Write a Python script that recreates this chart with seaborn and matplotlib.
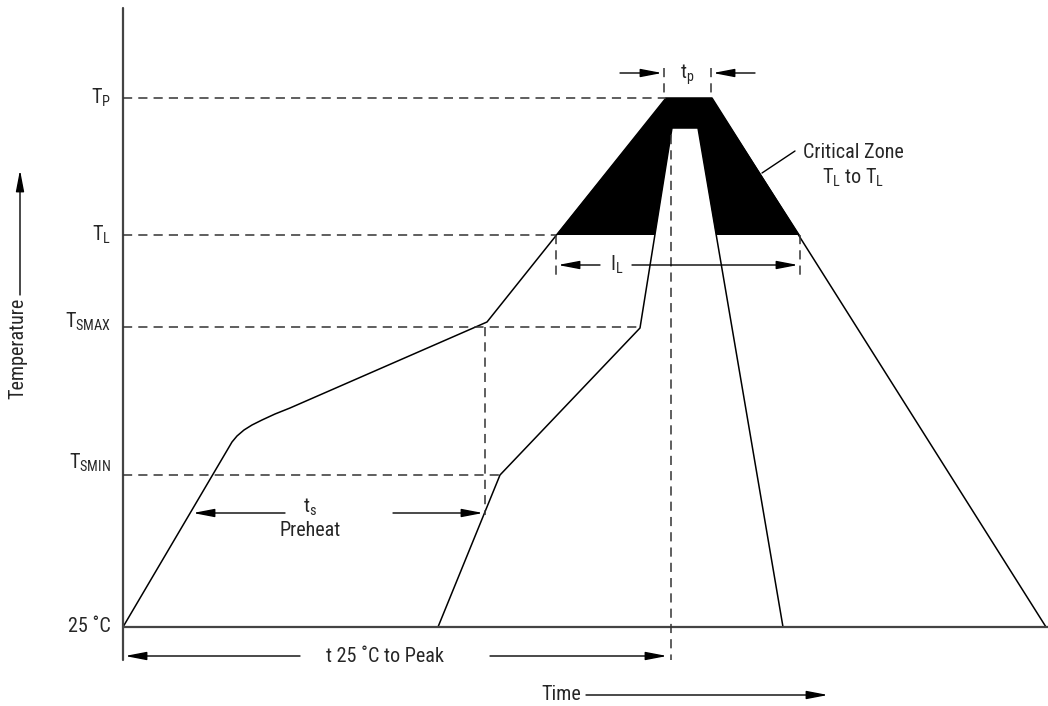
import matplotlib.pyplot as plt
import seaborn as sns
import pandas as pd
from matplotlib import font_manager

# schematic reflow profile, in drawing units (x = time, y = temperature, y grows downward)
outer_x = [123, 232, 237, 244, 252, 262, 275, 290, 487, 666, 712, 1046]
outer_y = [627, 442, 436, 430, 425, 420, 414, 408, 322, 98, 98, 627]
inner_x = [438, 500, 640, 672, 698, 783]
inner_y = [627, 475, 328, 128, 128, 627]
zone_x = [556, 666, 712, 800, 716, 698, 672, 655]
zone_y = [235, 98, 98, 235, 235, 128, 128, 235]

level_names = ["T$_{\\mathregular{P}}$", "T$_{\\mathregular{L}}$",
               "T$_{\\mathregular{SMAX}}$", "T$_{\\mathregular{SMIN}}$", "25 ˚C"]
level_y = [98, 235, 327, 475, 627]
level_end = [666, 556, 640, 500, 1048]
label_dy = [0, 0, -5, -12, 0]

installed = {f.name for f in font_manager.fontManager.ttflist}
narrow = [f for f in ["Roboto Condensed", "Liberation Sans Narrow", "Liberation Sans"] if f in installed]
main_font = narrow[0] if narrow else "DejaVu Sans"

sns.set_style("white")
plt.rcParams["font.family"] = [main_font, "DejaVu Sans"]
plt.rcParams["mathtext.fontset"] = "custom"
plt.rcParams["mathtext.rm"] = main_font
FS = 14.5

fig = plt.figure(figsize=(10.48, 7.06), dpi=100)
ax = fig.add_axes([0, 0, 1, 1])
ax.set_xlim(0, 1048)
ax.set_ylim(706, 0)
ax.axis("off")

df_out = pd.DataFrame({"t": outer_x, "T": outer_y})
df_in = pd.DataFrame({"t": inner_x, "T": inner_y})
ax.fill(zone_x, zone_y, color="black", lw=0)
sns.lineplot(data=df_out, x="t", y="T", sort=False, color="black", lw=1.1, ax=ax)
sns.lineplot(data=df_in, x="t", y="T", sort=False, color="black", lw=1.1, ax=ax)

# axis lines
ax.plot([123, 123], [8, 660], color="#444444", lw=1.6)
ax.plot([123, 1048], [627, 627], color="#444444", lw=1.6)

dash = dict(color="#333333", lw=1.1, ls=(0, (6, 4)))
for name, y, xe, dy in zip(level_names, level_y, level_end, label_dy):
    if y != 627:
        ax.plot([123, xe], [y, y], **dash)
    ax.text(111, y + dy, name, ha="right", va="center", fontsize=FS)

ax.plot([485, 485], [327, 515], **dash)
ax.plot([664, 664], [68, 98], **dash)
ax.plot([711, 711], [68, 98], **dash)
ax.plot([671, 671], [135, 660], **dash)
ax.plot([556, 556], [235, 275], **dash)
ax.plot([800, 800], [235, 275], **dash)


def arrow(x0, y0, x1, y1):
    ax.annotate("", xy=(x1, y1), xytext=(x0, y0),
                arrowprops=dict(arrowstyle="-|>,head_length=1.3,head_width=0.25",
                                mutation_scale=10, color="black", lw=1.0,
                                shrinkA=0, shrinkB=0))


arrow(620, 73, 662, 73)
arrow(755, 73, 713, 73)
ax.text(687, 75, "t$_{\\mathregular{p}}$", ha="center", va="center", fontsize=FS)

arrow(600, 265, 558, 265)
arrow(632, 265, 798, 265)
ax.text(617, 265, "I$_{\\mathregular{L}}$", ha="center", va="center", fontsize=FS)

ax.plot([762, 795], [173, 151], color="black", lw=1.0)
ax.text(853, 153, "Critical Zone", ha="center", va="center", fontsize=FS)
ax.text(853, 178, "T$_{\\mathregular{L}}$ to T$_{\\mathregular{L}}$", ha="center", va="center", fontsize=FS)

arrow(285, 513, 193, 513)
arrow(393, 513, 483, 513)
ax.text(310, 507, "t$_{\\mathregular{s}}$", ha="center", va="center", fontsize=FS)
ax.text(310, 530, "Preheat", ha="center", va="center", fontsize=FS)

arrow(300, 656, 125, 656)
arrow(490, 656, 667, 656)
ax.text(385, 656, "t 25 ˚C to Peak", ha="center", va="center", fontsize=FS)

ax.text(561, 695, "Time", ha="center", va="center", fontsize=FS)
arrow(586, 695, 828, 695)

ax.text(18, 348, "Temperature", ha="center", va="center", rotation=90, fontsize=FS)
arrow(20, 295, 20, 170)

fig.savefig("out.png", dpi=100)
